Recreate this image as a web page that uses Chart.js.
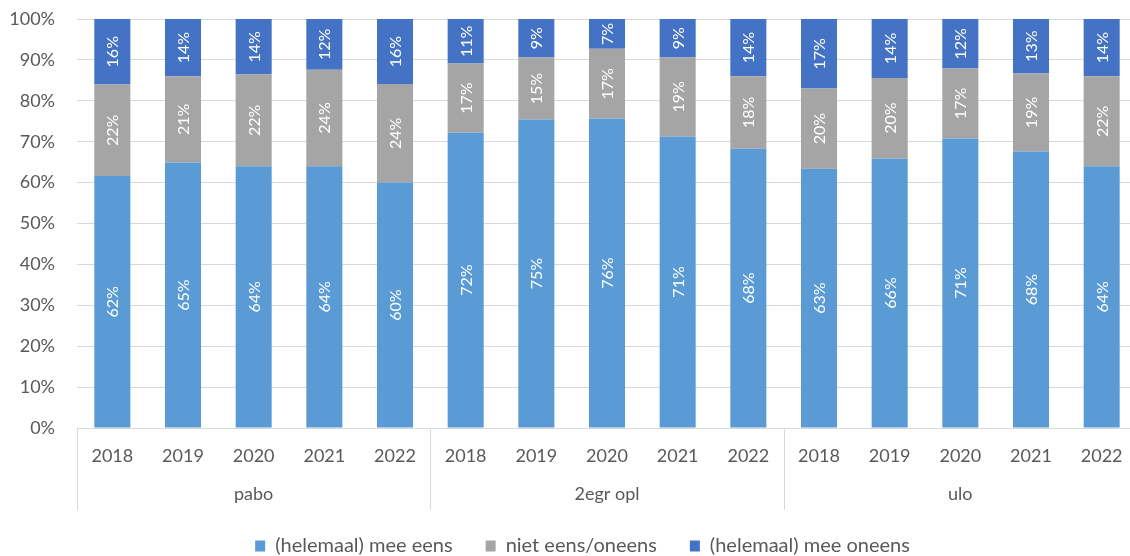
<!DOCTYPE html>
<html lang="nl">
<head>
    <meta charset="UTF-8">
    <title>Stellingen per opleiding</title>
    <style>
        html, body {
            margin: 0;
            background: #fff;
            overflow: hidden;
        }
        #wrap {
            width: 1157px;
            height: 556px;
        }
    </style>
</head>
<body>
    <div id="wrap"><canvas id="chart"></canvas></div>

    <script src="https://cdn.jsdelivr.net/npm/chart.js"></script>
    <script>
        const years = ['2018', '2019', '2020', '2021', '2022'];
        const groups = ['pabo', '2egr opl', 'ulo'];

        // percentages per bar (pabo 2018..2022, 2egr opl 2018..2022, ulo 2018..2022)
        const eens = [61.6, 64.9, 64.0, 64.0, 60.0, 72.2, 75.4, 75.6, 71.3, 68.3, 63.4, 65.9, 70.8, 67.6, 64.0];
        const neutraal = [22.4, 21.1, 22.4, 23.6, 24.1, 16.9, 15.2, 17.1, 19.3, 17.7, 19.6, 19.7, 17.1, 19.1, 22.0];
        const oneens = [16.0, 14.0, 13.6, 12.4, 15.9, 10.9, 9.4, 7.3, 9.4, 14.0, 17.0, 14.4, 12.1, 13.3, 14.0];

        const yTicks = [0, 10, 20, 30, 40, 50, 60, 70, 80, 90, 100];

        const labels = [];
        groups.forEach(g => years.forEach(y => labels.push(y)));

        const textColor = '#595959';
        const fontFamily = 'Lato, "Open Sans", sans-serif';

        // white rotated value labels in the middle of each segment
        const valueLabels = {
            id: 'valueLabels',
            afterDatasetsDraw(chart) {
                const ctx = chart.ctx;
                ctx.save();
                ctx.fillStyle = '#ffffff';
                ctx.font = '16px ' + fontFamily;
                ctx.textAlign = 'center';
                ctx.textBaseline = 'middle';
                chart.data.datasets.forEach((ds, di) => {
                    const meta = chart.getDatasetMeta(di);
                    meta.data.forEach((bar, i) => {
                        const mid = (bar.y + bar.base) / 2;
                        ctx.save();
                        ctx.translate(bar.x, mid);
                        ctx.rotate(-Math.PI / 2);
                        ctx.fillText(Math.round(ds.data[i]) + '%', 0, 1);
                        ctx.restore();
                    });
                });
                ctx.restore();
            }
        };

        // group names under the years plus the separator lines
        const groupAxis = {
            id: 'groupAxis',
            afterDraw(chart) {
                const ctx = chart.ctx;
                const xs = chart.scales.x;
                const step = xs.getPixelForValue(1) - xs.getPixelForValue(0);
                const top = xs.top;
                const bottom = xs.top + 82;
                ctx.save();
                ctx.strokeStyle = '#D9D9D9';
                ctx.lineWidth = 1;
                for (let b = 0; b <= groups.length; b++) {
                    const px = Math.round(xs.getPixelForValue(b * years.length) - step / 2) + 0.5;
                    ctx.beginPath();
                    ctx.moveTo(px, top);
                    ctx.lineTo(px, bottom);
                    ctx.stroke();
                }
                ctx.fillStyle = textColor;
                ctx.font = '18px ' + fontFamily;
                ctx.textAlign = 'center';
                ctx.textBaseline = 'middle';
                groups.forEach((g, gi) => {
                    const cx = xs.getPixelForValue(gi * years.length + 2);
                    ctx.fillText(g, cx, top + 66);
                });
                ctx.restore();
            }
        };

        new Chart(document.getElementById('chart'), {
            type: 'bar',
            data: {
                labels: labels,
                datasets: [
                    { label: '(helemaal) mee eens', data: eens, backgroundColor: '#5B9BD5' },
                    { label: 'niet eens/oneens', data: neutraal, backgroundColor: '#A5A5A5' },
                    { label: '(helemaal) mee oneens', data: oneens, backgroundColor: '#4472C4' }
                ]
            },
            options: {
                responsive: true,
                maintainAspectRatio: false,
                animation: false,
                layout: {
                    padding: { top: 19, left: 8, right: 0, bottom: -10 }
                },
                datasets: {
                    bar: { barPercentage: 0.51, categoryPercentage: 1 }
                },
                plugins: {
                    legend: {
                        position: 'bottom',
                        labels: {
                            color: textColor,
                            font: { family: fontFamily, size: 20 },
                            boxWidth: 10,
                            boxHeight: 11,
                            padding: 33
                        }
                    },
                    tooltip: { enabled: false }
                },
                scales: {
                    x: {
                        stacked: true,
                        grid: { display: false, drawTicks: false },
                        border: { color: '#D9D9D9' },
                        ticks: {
                            color: textColor,
                            font: { family: fontFamily, size: 18 },
                            padding: 17,
                            maxRotation: 0,
                            autoSkip: false
                        },
                        afterFit(scale) {
                            scale.height = 75;
                            scale.paddingLeft = 0;
                            scale.paddingRight = 0;
                        }
                    },
                    y: {
                        stacked: true,
                        min: 0,
                        max: 100,
                        afterBuildTicks(scale) {
                            scale.ticks = yTicks.map(v => ({ value: v }));
                        },
                        afterFit(scale) {
                            scale.width = 69;
                            scale.paddingTop = 0;
                            scale.paddingBottom = 0;
                        },
                        grid: { color: '#D9D9D9', drawTicks: false },
                        border: { display: false },
                        ticks: {
                            color: textColor,
                            font: { family: fontFamily, size: 18 },
                            padding: 22,
                            callback: v => v + '%'
                        }
                    },
                    // empty spacer on the right (off-page) so the legend centre matches
                    spacer: {
                        type: 'linear',
                        position: 'right',
                        grid: { display: false },
                        border: { display: false },
                        ticks: { display: false },
                        afterFit(scale) {
                            scale.width = 20;
                            scale.paddingTop = 0;
                            scale.paddingBottom = 0;
                        }
                    }
                }
            },
            plugins: [valueLabels, groupAxis]
        });
    </script>
</body>
</html>
